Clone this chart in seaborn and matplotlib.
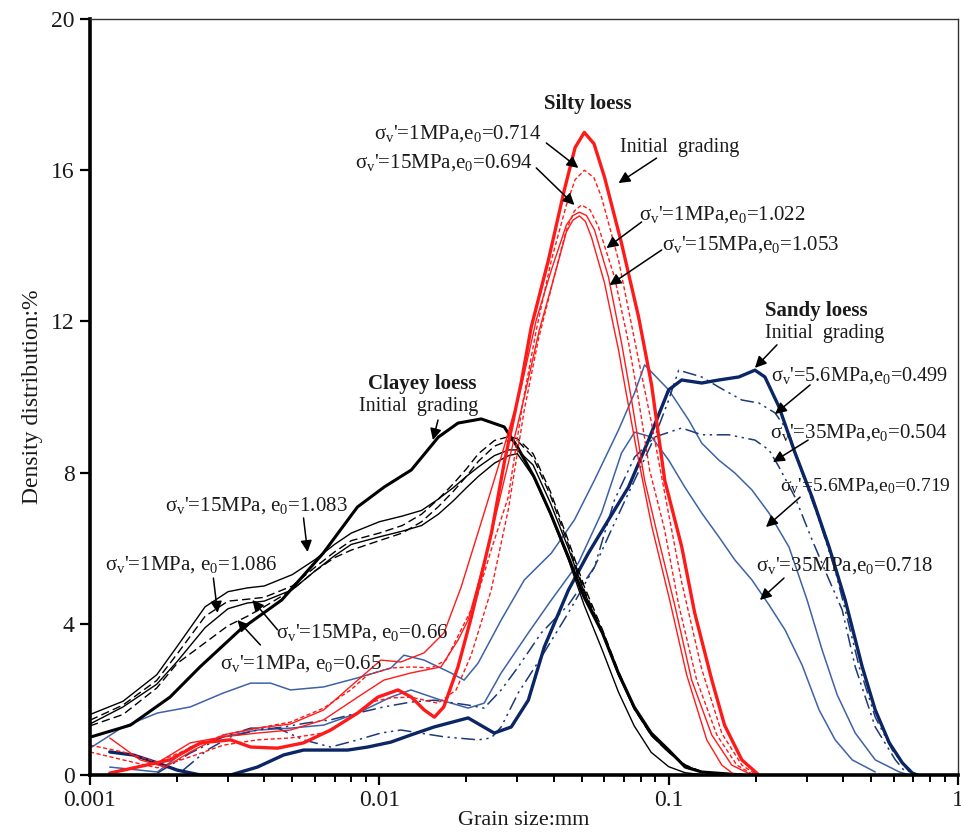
import matplotlib
matplotlib.use("Agg")
import matplotlib.pyplot as plt
from matplotlib.ticker import FixedLocator, LogLocator, NullFormatter
import seaborn as sns
import pandas as pd

# ---------------- data (grain size in mm, density distribution in %) ----------------
# Clayey loess
clay_init_x = [0.001, 0.00138, 0.00189, 0.0024, 0.0033, 0.0046, 0.0064, 0.0084, 0.0104, 0.0129,
               0.016, 0.0187, 0.0225, 0.027, 0.030, 0.0343, 0.039, 0.045, 0.051, 0.059, 0.067,
               0.076, 0.087, 0.1, 0.114, 0.13, 0.18]
clay_init_y = [1.0, 1.32, 2.06, 2.86, 3.84, 4.63, 5.87, 7.09, 7.62, 8.07, 8.94, 9.31, 9.42, 9.21,
               8.68, 7.88, 6.93, 5.77, 4.71, 3.76, 2.70, 1.80, 1.11, 0.66, 0.21, 0.08, 0.0]
clay_x = [0.001, 0.0013, 0.0017, 0.002, 0.0025, 0.003, 0.0035, 0.004, 0.005, 0.006, 0.007, 0.008,
          0.01, 0.012, 0.014, 0.016, 0.018, 0.02, 0.022, 0.025, 0.028, 0.03, 0.034, 0.039, 0.045,
          0.051, 0.059, 0.067, 0.076, 0.087, 0.1, 0.114, 0.13, 0.16, 0.2]
clay_15_1083 = [1.6, 1.95, 2.65, 3.4, 4.45, 4.85, 4.95, 5.0, 5.3, 5.7, 6.1, 6.4, 6.7, 6.85, 7.0, 7.3,
                7.6, 7.9, 8.15, 8.45, 8.6, 8.6, 8.2, 7.2, 6.0, 4.85, 3.75, 2.65, 1.75, 1.05, 0.6,
                0.25, 0.08, 0.01, 0.0]
clay_1_1086 = [1.45, 1.85, 2.5, 3.2, 4.2, 4.6, 4.65, 4.7, 5.0, 5.5, 5.9, 6.2, 6.4, 6.6, 6.9, 7.3,
               7.7, 8.1, 8.5, 8.85, 8.95, 8.9, 8.5, 7.5, 6.2, 5.0, 3.85, 2.75, 1.8, 1.1, 0.62,
               0.27, 0.09, 0.01, 0.0]
clay_15_066 = [1.35, 1.8, 2.4, 3.0, 3.9, 4.4, 4.55, 4.6, 4.9, 5.4, 5.8, 6.1, 6.3, 6.45, 6.6, 6.9,
               7.25, 7.6, 7.9, 8.25, 8.45, 8.5, 7.9, 6.9, 5.7, 4.5, 3.3, 2.2, 1.3, 0.6, 0.22,
               0.06, 0.01, 0.0, 0.0]
clay_1_065 = [1.3, 1.6, 2.3, 2.95, 3.5, 3.95, 4.2, 4.45, 4.9, 5.4, 5.75, 5.95, 6.2, 6.4, 6.7, 7.1,
              7.5, 7.9, 8.3, 8.7, 8.85, 8.85, 8.4, 7.4, 6.1, 4.9, 3.8, 2.7, 1.75, 1.05, 0.6,
              0.25, 0.08, 0.01, 0.0]

# Silty loess
silt_init_x = [0.00117, 0.00189, 0.00241, 0.00306, 0.00359, 0.00445, 0.00547, 0.00679, 0.00842,
               0.00988, 0.0116, 0.0129, 0.0143, 0.0155, 0.0167, 0.0187, 0.0208, 0.0244, 0.027,
               0.0309, 0.0335, 0.0384, 0.0436, 0.0475, 0.0511, 0.0552, 0.060, 0.0687, 0.0787,
               0.0873, 0.0969, 0.111, 0.123, 0.141, 0.156, 0.179, 0.205]
silt_init_y = [0.05, 0.40, 0.85, 0.93, 0.74, 0.71, 0.85, 1.19, 1.64, 2.06, 2.25, 2.06, 1.72, 1.53,
               1.80, 2.86, 4.18, 6.40, 8.25, 10.37, 11.85, 13.62, 15.48, 16.6, 17.0, 16.7, 15.82,
               14.07, 12.12, 10.32, 7.80, 6.03, 4.29, 2.51, 1.32, 0.40, 0.0]
silt_1_0714_x = [0.001, 0.0013, 0.00171, 0.00222, 0.00289, 0.00379, 0.00493, 0.00642, 0.00796,
                 0.00912, 0.01096, 0.01286, 0.01509, 0.0170, 0.01917, 0.0216, 0.02435, 0.02789,
                 0.03144, 0.03487, 0.03931, 0.04431, 0.0475, 0.05114, 0.0552, 0.05859, 0.06711,
                 0.07269, 0.0787, 0.0873, 0.1, 0.1109, 0.1301, 0.1527, 0.1791, 0.2018]
silt_1_0714_y = [0.79, 0.61, 0.34, 0.71, 1.06, 1.24, 1.40, 1.77, 2.25, 2.65, 2.83, 2.86, 2.83,
                 3.04, 3.84, 4.63, 5.95, 7.35, 9.92, 11.77, 13.62, 15.08, 15.75, 16.0, 15.8, 15.29,
                 13.62, 12.3, 10.98, 9.3, 6.9, 5.1, 2.8, 1.1, 0.26, 0.0]
silt_15_0694_x = [0.001, 0.0013, 0.00171, 0.00222, 0.00289, 0.00379, 0.00493, 0.00642, 0.00796,
                  0.00934, 0.01096, 0.01286, 0.01595, 0.01842, 0.02076, 0.02435, 0.02789, 0.0317,
                  0.03543, 0.03994, 0.04431, 0.0472, 0.04993, 0.0535, 0.0572, 0.065, 0.07269,
                  0.0787, 0.08593, 0.09687, 0.1083, 0.125, 0.1467, 0.1721, 0.1971]
silt_15_0694_y = [0.61, 0.40, 0.19, 0.48, 0.79, 0.93, 0.98, 1.11, 1.51, 1.93, 2.04, 2.06, 1.90,
                  2.25, 3.17, 4.89, 7.01, 9.66, 11.51, 13.1, 14.42, 14.92, 15.08, 14.95, 14.5,
                  13.17, 11.43, 9.92, 8.07, 6.48, 4.5, 2.51, 1.06, 0.26, 0.0]
silt_1_1022_x = [0.00117, 0.00149, 0.00182, 0.00222, 0.00289, 0.00379, 0.00493, 0.00642, 0.00842,
                 0.01012, 0.01187, 0.01427, 0.01673, 0.01917, 0.02302, 0.02637, 0.03094, 0.03487,
                 0.03931, 0.04431, 0.0467, 0.04914, 0.052, 0.0554, 0.06195, 0.06873, 0.07445,
                 0.08257, 0.09234, 0.1049, 0.1201, 0.1409, 0.1653, 0.194]
silt_1_1022_y = [0.98, 0.40, 0.21, 0.61, 1.06, 1.24, 1.35, 1.72, 2.51, 3.04, 2.99, 3.23, 3.76,
                 4.97, 6.93, 8.41, 10.26, 12.04, 13.36, 14.55, 14.8, 14.89, 14.8, 14.42, 13.17,
                 11.43, 9.92, 7.8, 6.22, 4.5, 2.51, 1.06, 0.26, 0.0]
silt_15_1053_x = [0.00117, 0.00171, 0.00222, 0.00289, 0.00379, 0.00493, 0.00642, 0.00842, 0.01036,
                  0.01286, 0.01634, 0.01871, 0.02027, 0.02378, 0.02701, 0.0317, 0.03572, 0.03994,
                  0.04431, 0.0467, 0.04914, 0.0515, 0.05409, 0.06001, 0.06711, 0.07153, 0.07745,
                  0.0873, 0.1008, 0.1154, 0.1354, 0.1527, 0.1693]
silt_15_1053_y = [0.05, 0.32, 0.85, 1.01, 1.11, 1.19, 1.46, 2.06, 2.51, 2.70, 2.86, 3.57, 4.10,
                  6.03, 7.80, 10.0, 11.77, 13.1, 14.37, 14.68, 14.79, 14.65, 14.23, 13.02, 11.24,
                  10.05, 8.6, 6.6, 4.63, 2.65, 0.93, 0.26, 0.0]

# Sandy loess
sand_init_x = [0.00117, 0.00141, 0.00171, 0.002, 0.00241, 0.00306, 0.00379, 0.00467, 0.00547,
               0.00642, 0.00778, 0.00912, 0.01096, 0.01286, 0.01545, 0.02027, 0.02494, 0.02857,
               0.03273, 0.03718, 0.04502, 0.0528, 0.06195, 0.07269, 0.0852, 0.1, 0.1109, 0.1301,
               0.1491, 0.1748, 0.1987, 0.2151, 0.2406, 0.2734, 0.3131, 0.3585, 0.4074, 0.4667,
               0.5176, 0.5788, 0.6423, 0.6956, 0.7238]
sand_init_y = [0.61, 0.53, 0.32, 0.13, 0.0, 0.0, 0.21, 0.53, 0.66, 0.66, 0.66, 0.74, 0.87, 1.06,
               1.27, 1.51, 1.11, 1.27, 1.98, 3.39, 4.89, 5.87, 6.75, 7.62, 8.86, 10.19, 10.45,
               10.37, 10.45, 10.53, 10.71, 10.53, 9.74, 8.52, 7.35, 6.03, 4.63, 2.86, 1.72, 0.85,
               0.32, 0.05, 0.0]
sand_56_0499_x = [0.00171, 0.00222, 0.00289, 0.00359, 0.00445, 0.00547, 0.00679, 0.00842, 0.01012,
                  0.01187, 0.01673, 0.02195, 0.02435, 0.02637, 0.0302, 0.0363, 0.04502, 0.0554,
                  0.065, 0.07625, 0.08943, 0.1, 0.1083, 0.1301, 0.1491, 0.1791, 0.2051, 0.2331,
                  0.2606, 0.2891, 0.3311, 0.3762, 0.4074, 0.4557, 0.5176, 0.5929, 0.679]
sand_56_0499_y = [0.05, 0.58, 1.01, 1.24, 1.24, 0.93, 0.74, 0.93, 1.11, 1.19, 1.01, 0.93, 0.98,
                  1.27, 2.17, 3.12, 4.29, 5.50, 6.67, 7.80, 8.94, 9.92, 10.71, 10.53, 10.26, 9.92,
                  9.84, 9.58, 9.05, 7.99, 6.75, 5.42, 4.37, 2.86, 1.53, 0.66, 0.08]
sand_35_0504_x = [0.0021, 0.00254, 0.00306, 0.00379, 0.00467, 0.00565, 0.00679, 0.00842, 0.01036,
                  0.01286, 0.01545, 0.02027, 0.02302, 0.02637, 0.0302, 0.0363, 0.04502, 0.0554,
                  0.065, 0.07625, 0.08943, 0.1109, 0.1301, 0.1614, 0.1987, 0.2222, 0.2406, 0.2734,
                  0.3131, 0.3585, 0.3978, 0.4414, 0.5176, 0.6074, 0.6577]
sand_35_0504_y = [0.13, 0.66, 1.01, 1.19, 1.27, 1.38, 1.46, 1.64, 1.80, 1.93, 1.98, 1.85, 1.77,
                  2.25, 2.86, 3.76, 4.50, 5.50, 7.28, 8.41, 8.94, 9.18, 9.0, 9.0, 8.86, 8.6, 8.15,
                  7.35, 6.22, 5.16, 4.37, 2.86, 1.27, 0.40, 0.08]
sand_56_0719_x = [0.001, 0.0013, 0.00171, 0.00222, 0.00289, 0.00359, 0.00421, 0.00493, 0.00642,
                  0.00842, 0.01096, 0.01216, 0.01427, 0.01769, 0.01963, 0.02195, 0.02637, 0.0317,
                  0.03931, 0.04724, 0.0554, 0.06711, 0.07625, 0.08257, 0.1, 0.1173, 0.1301,
                  0.1491, 0.1693, 0.194, 0.2222, 0.2606, 0.3009, 0.3391, 0.3823, 0.4414, 0.5176,
                  0.6269, 0.679]
sand_56_0719_y = [0.71, 1.27, 1.64, 1.80, 2.17, 2.43, 2.43, 2.25, 2.33, 2.57, 2.83, 3.17, 3.04,
                  2.70, 2.51, 2.96, 4.10, 5.16, 5.87, 6.75, 7.80, 9.13, 10.11, 10.85, 10.19, 9.39,
                  8.78, 8.33, 7.99, 7.54, 6.93, 6.03, 4.63, 3.31, 2.12, 1.11, 0.40, 0.08, 0.0]
sand_35_0718_x = [0.00117, 0.00171, 0.00222, 0.00289, 0.00379, 0.00493, 0.00642, 0.00842, 0.01096,
                  0.01286, 0.01634, 0.02027, 0.02302, 0.02637, 0.03273, 0.03931, 0.04875, 0.05859,
                  0.06873, 0.07625, 0.0873, 0.1, 0.1136, 0.1301, 0.1491, 0.1693, 0.194, 0.2222,
                  0.2524, 0.2891, 0.3311, 0.3762, 0.4309, 0.5176]
sand_35_0718_y = [0.21, 0.08, 0.74, 1.01, 1.19, 1.24, 1.32, 1.64, 2.06, 2.25, 1.98, 1.77, 1.90,
                  2.70, 3.76, 4.63, 5.61, 6.93, 8.52, 9.07, 8.94, 8.33, 7.62, 6.93, 6.30, 5.69,
                  5.16, 4.50, 3.84, 2.91, 1.72, 0.93, 0.40, 0.08]

x_ticks = [0.001, 0.01, 0.1, 1]
x_tick_labels = ["0.001", "0.01", "0.1", "1"]
y_ticks = [0, 4, 8, 12, 16, 20]

# ---------------- style ----------------
sns.set_theme(style="white")
plt.rcParams["font.family"] = ["Liberation Serif", "DejaVu Serif"]
plt.rcParams["mathtext.default"] = "regular"

RED = "#ff1a1a"
NAVY = "#0b2664"
DDNAVY = "#1d3a78"
BLUE = "#3d62a8"
TXT = "#1a1a1a"

fig = plt.figure(figsize=(9.62, 8.32), dpi=100)
ax = fig.add_axes([90 / 962, 1 - 775 / 832, (958 - 90) / 962, (775 - 19) / 832])


def draw(x, y, color, lw, dashes=None):
    df = pd.DataFrame({"size": x, "dens": y})
    sns.lineplot(data=df, x="size", y="dens", ax=ax, color=color, linewidth=lw,
                 sort=False, estimator=None, legend=False)
    line = ax.lines[-1]
    line.set_solid_capstyle("round")
    line.set_solid_joinstyle("round")
    if dashes is not None:
        line.set_dashes(dashes)


DASH_BLACK = (6, 3)
DASH_RED = (3, 1.8)
DASH_DD = (9, 3, 1.5, 3, 1.5, 3)

# sandy (blue family)
draw(sand_56_0719_x, sand_56_0719_y, BLUE, 1.1)
draw(sand_35_0718_x, sand_35_0718_y, BLUE, 1.1)
draw(sand_56_0499_x, sand_56_0499_y, DDNAVY, 1.1, DASH_DD)
draw(sand_35_0504_x, sand_35_0504_y, DDNAVY, 1.1, DASH_DD)
draw(sand_init_x, sand_init_y, NAVY, 2.4)

# clayey (black)
draw(clay_x, clay_15_1083, "black", 1.0)
draw(clay_x, clay_15_066, "black", 1.0)
draw(clay_x, clay_1_1086, "black", 1.0, DASH_BLACK)
draw(clay_x, clay_1_065, "black", 1.0, DASH_BLACK)
draw(clay_init_x, clay_init_y, "black", 2.2)

# silty (red)
draw(silt_1_1022_x, silt_1_1022_y, RED, 1.0)
draw(silt_15_1053_x, silt_15_1053_y, RED, 1.0)
draw(silt_1_0714_x, silt_1_0714_y, RED, 1.0, DASH_RED)
draw(silt_15_0694_x, silt_15_0694_y, RED, 1.0, DASH_RED)
draw(silt_init_x, silt_init_y, RED, 2.4)

# ---------------- axes ----------------
ax.set_xscale("log")
ax.set_xlim(0.001, 1)
ax.set_ylim(0, 20)
ax.xaxis.set_major_locator(FixedLocator(x_ticks))
ax.set_xticklabels(x_tick_labels)
ax.xaxis.set_minor_locator(LogLocator(base=10, subs=range(2, 10)))
ax.xaxis.set_minor_formatter(NullFormatter())
ax.set_yticks(y_ticks)
ax.set_yticklabels([str(v) for v in y_ticks])
ax.tick_params(axis="both", which="major", direction="out", length=7, width=1.6,
               labelsize=17, colors="black", labelcolor=TXT, pad=4)
ax.tick_params(axis="x", which="minor", direction="out", length=5, width=1.4, colors="black")
ax.tick_params(axis="x", which="both", bottom=True, top=False)
ax.tick_params(axis="y", which="both", left=True, right=False)
for side in ["left", "bottom"]:
    ax.spines[side].set_linewidth(2.6)
    ax.spines[side].set_color("black")
for side in ["top", "right"]:
    ax.spines[side].set_linewidth(1.0)
    ax.spines[side].set_color("#333333")
ax.set_xlabel("Grain size:mm", fontsize=16, color=TXT, labelpad=0)
ax.set_ylabel("Density distribution:%", fontsize=17, color=TXT, labelpad=6)
ax.grid(False)

# ---------------- annotations ----------------
FS = 15


def label(x, y, s, ha="left", bold=False, size=FS):
    ax.text(x, y, s, ha=ha, va="center", fontsize=size, color=TXT,
            fontweight="bold" if bold else "normal")


def arrow(tail, tip):
    ax.annotate("", xy=tip, xytext=tail,
                arrowprops=dict(arrowstyle="-|>", color="black", lw=1.1,
                                mutation_scale=17, shrinkA=0, shrinkB=0))


label(0.03718, 17.75, "Silty loess", bold=True)
label(0.0363, 16.98, "σ$_v$'=1MPa,e$_0$=0.714", ha="right")
arrow((0.03776, 16.72), (0.04875, 16.06))
label(0.03404, 16.19, "σ$_v$'=15MPa,e$_0$=0.694", ha="right")
arrow((0.03487, 16.06), (0.04724, 15.08))
label(0.06765, 16.59, "Initial  grading", size=14.5)
arrow((0.0908, 16.32), (0.06711, 15.66))
label(0.0787, 14.84, "σ$_v$'=1MPa,e$_0$=1.022")
arrow((0.08062, 14.63), (0.06097, 13.94))
label(0.09458, 14.02, "σ$_v$'=15MPa,e$_0$=1.053")
arrow((0.09458, 13.89), (0.06245, 12.96))

label(0.2151, 12.28, "Sandy loess", bold=True)
label(0.2151, 11.67, "Initial  grading", size=14.5)
arrow((0.2368, 11.38), (0.1987, 10.77))
label(0.2265, 10.58, "σ$_v$'=5.6MPa,e$_0$=0.499", size=14.6)
arrow((0.3082, 10.32), (0.2331, 9.55))
label(0.2239, 9.07, "σ$_v$'=35MPa,e$_0$=0.504")
arrow((0.3033, 8.86), (0.2293, 8.28))
label(0.2430, 7.65, "σ$_v$'=5.6MPa,e$_0$=0.719", size=14.0)
arrow((0.2846, 7.35), (0.2169, 6.56))
label(0.2003, 5.53, "σ$_v$'=35MPa,e$_0$=0.718")
arrow((0.2504, 5.21), (0.2067, 4.63))

label(0.00912, 10.34, "Clayey loess", bold=True)
label(0.00849, 9.76, "Initial  grading", size=14.5)
arrow((0.01595, 9.39), (0.01532, 8.86))
label(0.00182, 7.14, "σ$_v$'=15MPa, e$_0$=1.083")
arrow((0.00547, 6.80), (0.00565, 5.90))
label(0.00113, 5.56, "σ$_v$'=1MPa, e$_0$=1.086")
arrow((0.00267, 5.21), (0.00276, 4.29))
label(0.00438, 3.76, "σ$_v$'=15MPa, e$_0$=0.66")
arrow((0.00445, 3.84), (0.00364, 4.63))
label(0.00282, 2.94, "σ$_v$'=1MPa, e$_0$=0.65")
arrow((0.00388, 3.44), (0.00323, 4.10))

fig.savefig("out.png", dpi=100)
